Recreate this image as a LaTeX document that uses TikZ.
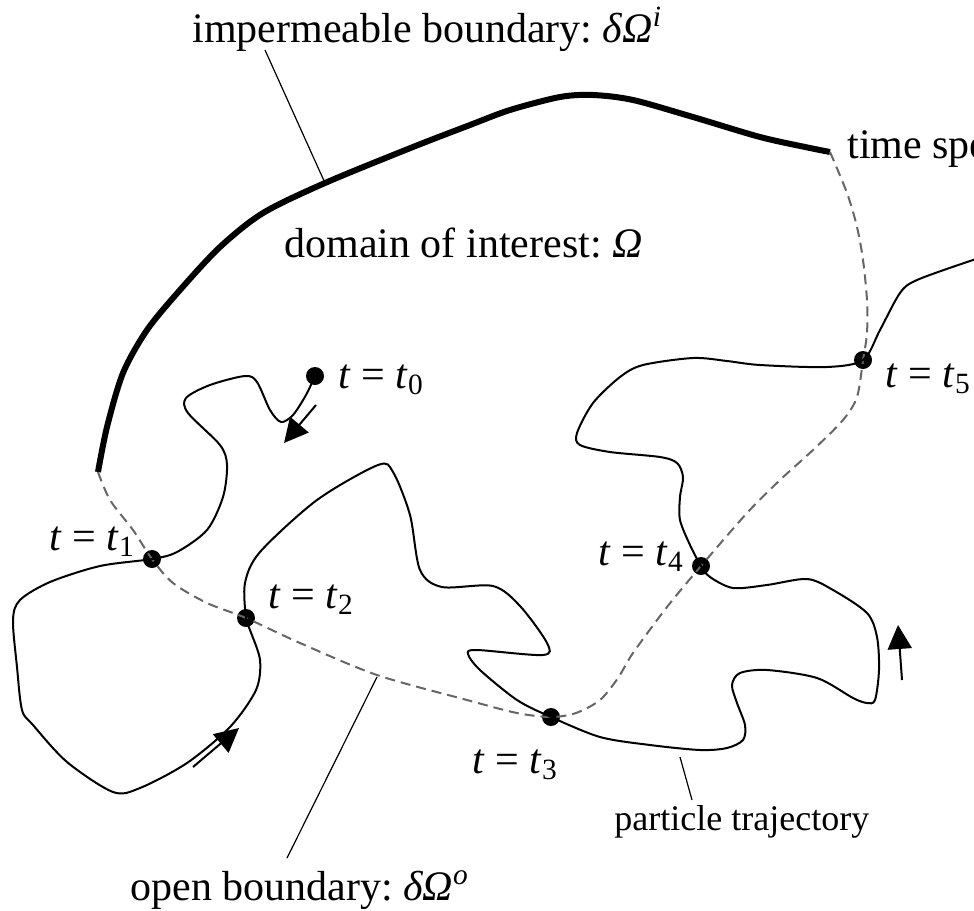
\documentclass[tikz,border=0pt]{standalone}
\usepackage{fontspec}
\setmainfont{Liberation Serif}
\usetikzlibrary{arrows.meta}

\newcommand{\tis}[1]{\textit{t} = \textit{t}\textsubscript{#1}}

\begin{document}
\begin{tikzpicture}[x=0.5pt, y=-0.5pt,
  font=\fontsize{21}{25}\selectfont,
  dot/.style={circle, fill, inner sep=0pt, minimum size=9pt},
  lbl/.style={anchor=base west, inner sep=0pt},
  traj/.style={line width=1pt},
  wall/.style={line width=3pt},
  openwall/.style={black!60, line width=1pt, dash pattern=on 5pt off 3pt},
  leader/.style={line width=0.6pt},
  dirarrow/.style={line width=1pt, -{Triangle[length=12pt,width=12pt]}}]
\useasboundingbox (0,0) rectangle (974,910);

% particle positions
\node[dot] (d0) at (315,376) {};
\node[dot] (d1) at (152,559) {};
\node[dot] (d2) at (246,618) {};
\node[dot] (d3) at (551,717) {};
\node[dot] (d4) at (701,566) {};
\node[dot] (d5) at (863,360) {};

\node[lbl] (l0) at (338,388) {\tis{0}};
\node[lbl] (l1) at (49,550) {\tis{1}};
\node[lbl] (l2) at (268,608) {\tis{2}};
\node[lbl] (l3) at (472,773) {\tis{3}};
\node[lbl] (l4) at (598,565) {\tis{4}};
\node[lbl] (l5) at (885,387) {\tis{5}};

% labels
\node[lbl] (imper) at (192,42) {impermeable boundary:\ \textit{δΩ}\textsuperscript{\textit{i}}};
\node[lbl] (domain) at (284,257) {domain of interest:\ \textit{Ω}};
\node[lbl] (timesp) at (847,158) {time spe};
\node[lbl] (openb) at (130,900) {open boundary:\ \textit{δΩ}\textsuperscript{\textit{o}}};
\node[lbl, font=\fontsize{18}{22}\selectfont] (ptraj) at (614,830) {particle trajectory};

% boundary
\coordinate (bl) at (98,472);
\coordinate (br) at (830,152);
\draw[wall] plot[smooth] coordinates {(bl) (107,427) (123,373) (147,330)
  (180,290) (220,247) (263,213) (325,183) (413,147) (470,125) (510,110)
  (560,97) (593,95) (633,100) (693,117) (760,137) (810,148) (br)};
\draw[openwall] plot[smooth] coordinates {(bl) (110,500) (133,530)
  (d1.center) (173,583) (207,603) (d2.center) (300,643) (377,675)
  (467,700) (517,713) (d3.center) (576,713) (600,700) (618,678) (633,653)
  (667,607) (d4.center) (747,513) (780,480) (813,450) (843,420) (857,397)
  (d5.center) (867,333) (867,300) (863,260) (857,227) (847,193) (br)};

% trajectory
\draw[traj] plot[smooth] coordinates {(d0.center) (306,395) (293,415)
  (281,422) (270,410) (257,382) (245,376) (210,385) (186,398) (188,413)
  (220,445) (227,465) (223,497) (207,530) (177,552) (d1.center)
  (100,566) (50,582) (20,600) (13,620) (17,667) (22,710) (33,725)
  (67,762) (113,792) (140,788) (187,763) (230,727) (256,690) (260,660)
  (250,630) (d2.center) (245,583) (260,552) (317,500) (378,465)
  (393,472) (410,515) (420,570) (442,587) (493,586) (520,606) (547,643)
  (543,655) (477,650) (468,654) (480,670) (517,700) (d3.center)
  (600,737) (650,745) (700,750) (727,748) (743,740) (745,725) (737,703)
  (732,685) (740,673) (767,670) (817,678) (853,698) (867,703) (875,700)
  (879,670) (877,637) (867,613) (833,590) (807,579) (767,585) (733,588)
  (710,577) (d4.center) (690,545) (680,520) (680,497) (683,477)
  (677,463) (660,457) (610,452) (580,445) (577,433) (593,403) (620,377)
  (643,365) (693,358) (727,361) (760,365) (827,367) (d5.center)
  (880,330) (900,293) (917,280) (973,260) (1000,252)};

% leaders
\coordinate (ib) at (325,183);
\coordinate (it) at (265,50);
\draw[leader] (ib) -- (it);
\coordinate (ob) at (377,677);
\coordinate (ot) at (287,858);
\draw[leader] (ob) -- (ot);
\coordinate (pb) at (680,757);
\coordinate (pt) at (692,800);
\draw[leader] (pb) -- (pt);

% direction arrows
\coordinate (a0s) at (316,405);
\coordinate (a0e) at (284,443);
\coordinate (a1s) at (193,767);
\coordinate (a1e) at (239,728);
\coordinate (a2s) at (902,680);
\coordinate (a2e) at (898,625);
\draw[dirarrow] (a0s) -- (a0e);
\draw[dirarrow] (a1s) -- (a1e);
\draw[dirarrow] (a2s) -- (a2e);
\end{tikzpicture}
\end{document}
